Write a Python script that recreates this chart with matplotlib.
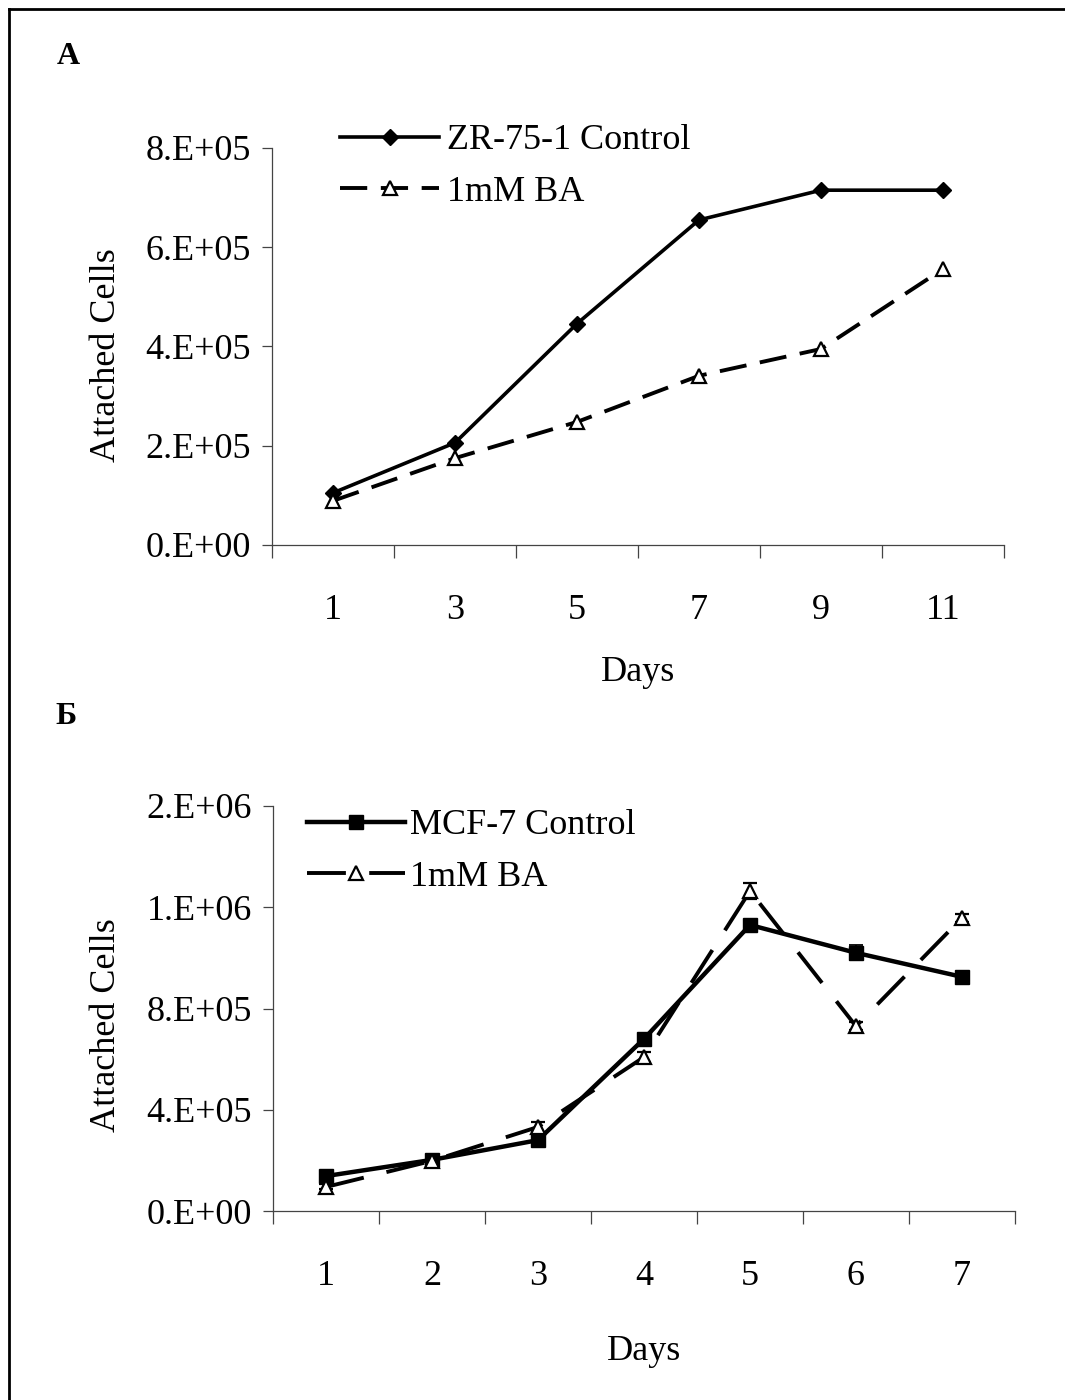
import numpy as np
import matplotlib
matplotlib.use("Agg")
import matplotlib.pyplot as plt
from matplotlib.lines import Line2D
from matplotlib.ticker import FixedLocator, FuncFormatter, NullFormatter

plt.rcParams['font.family'] = ['Liberation Serif', 'DejaVu Serif']

# Panel A: ZR-75-1
days_a = ['1', '3', '5', '7', '9', '11']
ctrl_a = [1.05e5, 2.06e5, 4.46e5, 6.55e5, 7.15e5, 7.15e5]
ba_a = [0.89e5, 1.75e5, 2.48e5, 3.41e5, 3.95e5, 5.56e5]

# Panel B: MCF-7
days_b = ['1', '2', '3', '4', '5', '6', '7']
ctrl_b = [1.38e5, 2.02e5, 2.80e5, 6.80e5, 1.13e6, 1.02e6, 9.25e5]
ctrl_b_err = [1.5e4, 1.0e4, 1.0e4, 1.5e4, 1.5e4, 3.0e4, 2.0e4]
ba_b = [0.95e5, 1.98e5, 3.32e5, 6.08e5, 1.264e6, 7.30e5, 1.158e6]
ba_b_err = [1.0e4, 1.0e4, 2.0e4, 2.0e4, 3.0e4, 1.5e4, 1.5e4]

W, H = 1065, 1400
fig = plt.figure(figsize=(W / 100, H / 100), dpi=100)

FS = 26


def sci(v, pos):
    return '{:#.0E}'.format(v)


def style_axes(ax, labels, ymax, ystep):
    n = len(labels)
    ax.set_xlim(-0.5, n - 0.5)
    ax.set_ylim(0, ymax)
    for s in ['top', 'right']:
        ax.spines[s].set_visible(False)
    for s in ['left', 'bottom']:
        ax.spines[s].set_color('#444444')
        ax.spines[s].set_linewidth(0.9)
    # category boundaries get the tick marks, centres get the labels
    ax.xaxis.set_major_locator(FixedLocator(np.arange(n + 1) - 0.5))
    ax.xaxis.set_major_formatter(NullFormatter())
    ax.xaxis.set_minor_locator(FixedLocator(np.arange(n)))
    ax.set_xticklabels(labels, minor=True)
    ax.tick_params(axis='x', which='major', direction='out', length=9,
                   width=0.9, color='#444444')
    ax.tick_params(axis='x', which='minor', length=0, pad=35, labelsize=FS)
    ax.yaxis.set_major_locator(FixedLocator(np.arange(0, ymax + 1, ystep)))
    ax.yaxis.set_major_formatter(FuncFormatter(sci))
    ax.tick_params(axis='y', direction='out', length=7, width=0.9,
                   color='#444444', pad=8, labelsize=FS)


# ---- panel A
axA = fig.add_axes([272 / W, 1 - 545 / H, 732 / W, 397 / H])
style_axes(axA, days_a, 8e5, 2e5)
xa = np.arange(len(days_a))
axA.plot(xa, ctrl_a, color='black', lw=2.6, marker='D', ms=8,
         mfc='black', mec='black', label='ZR-75-1 Control')
axA.plot(xa, ba_a, color='black', lw=2.8, dashes=(7, 3.5), marker='^', ms=10,
         mfc='white', mec='black', mew=1.6, label='1mM BA')
axA.set_xlabel('Days', fontsize=FS)
axA.xaxis.set_label_coords(0.5, -0.322)
axA.xaxis.label.set_verticalalignment('center')
axA.set_ylabel('Attached Cells', fontsize=FS)
axA.yaxis.set_label_coords(-0.226, 0.479)
axA.yaxis.label.set_verticalalignment('center')
axA.legend(loc='upper left', bbox_to_anchor=(340 / W, 1 - 124 / H),
           bbox_transform=fig.transFigure, frameon=False, fontsize=FS,
           handlelength=2.75, handletextpad=0.2, labelspacing=0.5,
           borderpad=0, borderaxespad=0, numpoints=1)

# ---- panel B
axB = fig.add_axes([273 / W, 1 - 1211 / H, 742 / W, 405 / H])
style_axes(axB, days_b, 1.6e6, 4e5)
xb = np.arange(len(days_b))
axB.errorbar(xb, ctrl_b, yerr=ctrl_b_err, color='black', lw=3.2, marker='s',
             ms=10, mfc='black', mec='black', capsize=5, elinewidth=1.3,
             capthick=1.3, label='MCF-7 Control')
axB.errorbar(xb, ba_b, yerr=ba_b_err, color='black', lw=2.8,
             dashes=(10, 6), marker='^', ms=10, mfc='white', mec='black',
             mew=1.6, capsize=5, elinewidth=1.3, capthick=1.3,
             label='1mM BA')
axB.set_xlabel('Days', fontsize=FS)
axB.xaxis.set_label_coords(0.5, -0.348)
axB.xaxis.label.set_verticalalignment('center')
axB.set_ylabel('Attached Cells', fontsize=FS)
axB.yaxis.set_label_coords(-0.224, 0.459)
axB.yaxis.label.set_verticalalignment('center')
hB, lB = axB.get_legend_handles_labels()
axB.legend([h[0] for h in hB], lB, loc='upper left',
           bbox_to_anchor=(307 / W, 1 - 809 / H),
           bbox_transform=fig.transFigure, frameon=False, fontsize=FS,
           handlelength=2.7, handletextpad=0.15, labelspacing=0.5,
           borderpad=0, borderaxespad=0, numpoints=1)

# panel letters
fig.text(68 / W, 1 - 56 / H, 'A', fontsize=23, fontweight='bold',
         ha='center', va='center')
fig.text(66 / W, 1 - 716 / H, 'Б', fontsize=23, fontweight='bold',
         ha='center', va='center')

# outer frame (top and left edges visible in the scan)
fig.add_artist(Line2D([9 / W, 1], [1 - 9 / H, 1 - 9 / H], color='black',
                      lw=2, transform=fig.transFigure))
fig.add_artist(Line2D([9 / W, 9 / W], [0, 1 - 9 / H], color='black',
                      lw=2, transform=fig.transFigure))

fig.savefig('out.png', dpi=100)
